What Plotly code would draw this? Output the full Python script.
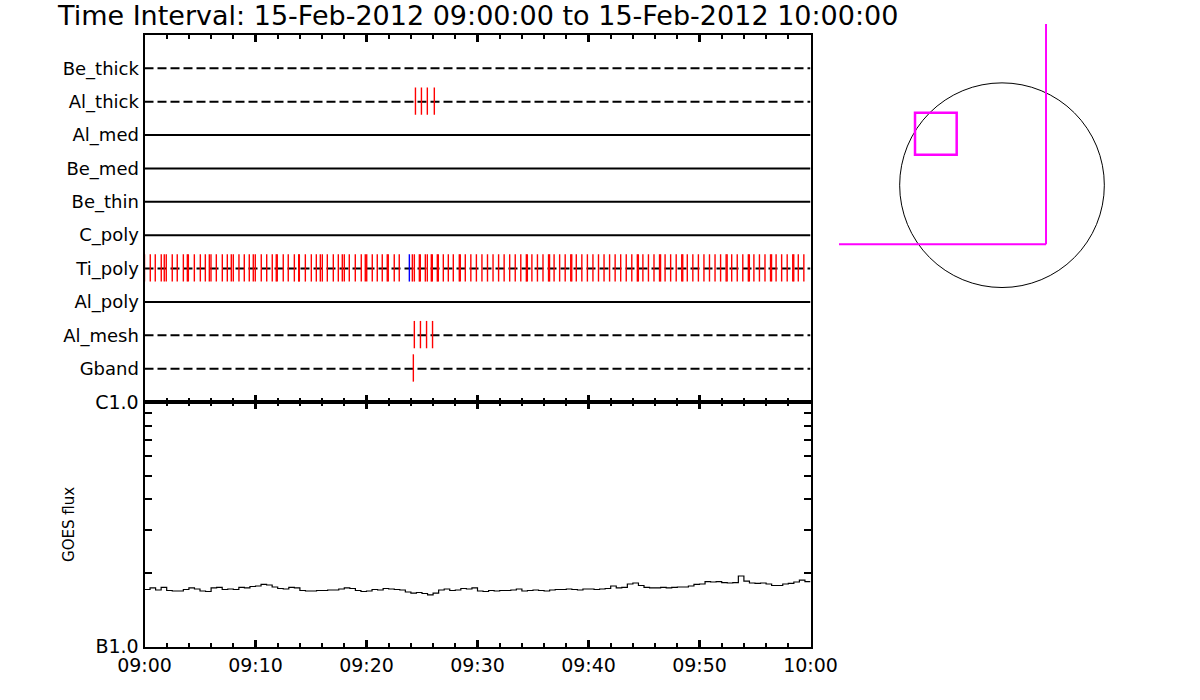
import numpy as np
import pandas as pd
import plotly.graph_objects as go

# ---------------- data ----------------
title_text = "Time Interval: 15-Feb-2012 09:00:00 to 15-Feb-2012 10:00:00"
start_time = pd.Timestamp("2012-02-15 09:00:00")
end_time = pd.Timestamp("2012-02-15 10:00:00")

rows = ["Be_thick", "Al_thick", "Al_med", "Be_med", "Be_thin",
        "C_poly", "Ti_poly", "Al_poly", "Al_mesh", "Gband"]
row_dashed = [True, True, False, False, False, False, True, False, True, True]

# event times, minutes after 09:00
al_thick_events = [24.41, 24.95, 25.48, 26.11]
al_mesh_events = [24.31, 24.86, 25.41, 25.95]
gband_events = [24.22]
ti_poly_events = [
    0.0, 0.52, 0.97, 1.51, 1.78, 1.96, 2.50, 2.95, 3.50, 3.86, 3.95, 4.49,
    5.03, 5.48, 5.84, 5.99, 6.47, 7.01, 7.46, 7.82, 8.00, 8.51, 8.99, 9.44,
    9.80, 9.98, 10.52, 11.01, 11.51, 11.87, 11.96, 12.50, 12.95, 13.50, 13.89,
    13.95, 14.49, 15.03, 15.48, 15.84, 16.02, 16.47, 17.01, 17.46, 17.82, 18.00,
    18.45, 18.99, 19.53, 19.89, 20.02, 20.52, 20.97, 21.42, 21.87, 21.96, 22.50,
    22.95, 24.13, 24.31, 24.76, 24.85, 25.30, 25.48, 25.84, 25.93, 26.38,
    26.47, 26.92, 27.37, 27.82, 28.36, 28.45, 28.90, 29.40, 29.90, 30.40,
    30.90, 31.40, 31.90, 32.40, 32.90, 33.40, 33.90, 34.40, 34.49, 34.90, 35.40,
    35.90, 36.40, 36.49, 36.90, 37.40, 37.90, 38.40, 38.49, 38.90, 39.40, 39.90,
    40.40, 40.90, 41.40, 41.90, 42.40, 42.90, 43.40, 43.90, 44.40, 44.49, 44.90,
    45.40, 45.90, 46.40, 46.49, 46.90, 47.40, 47.90, 48.40, 48.49, 48.90, 49.40,
    49.90, 50.40, 50.90, 51.40, 51.90, 52.40, 52.49, 52.90, 53.40, 53.90, 54.40,
    54.49, 54.90, 55.40, 55.90, 56.40, 56.49, 56.90, 57.40, 57.90, 58.40, 58.49,
    58.90, 59.40]
ti_poly_blue_events = [23.86]

# GOES flux (units of 1e-7 W/m^2), sampled every 30 s from 09:00
goes_step_min = 0.5
goes_flux = [
    1.713, 1.738, 1.705, 1.746, 1.697, 1.689, 1.689, 1.713, 1.738, 1.721,
    1.689, 1.681, 1.738, 1.746, 1.713, 1.721, 1.713, 1.746, 1.738, 1.762,
    1.770, 1.796, 1.787, 1.754, 1.729, 1.721, 1.746, 1.738, 1.697, 1.689,
    1.689, 1.697, 1.697, 1.705, 1.705, 1.721, 1.738, 1.729, 1.697, 1.681,
    1.689, 1.713, 1.705, 1.729, 1.721, 1.713, 1.705, 1.673, 1.657, 1.665,
    1.650, 1.627, 1.657, 1.705, 1.721, 1.697, 1.705, 1.729, 1.721, 1.738,
    1.689, 1.681, 1.697, 1.689, 1.697, 1.697, 1.705, 1.721, 1.689, 1.697,
    1.705, 1.697, 1.689, 1.705, 1.713, 1.713, 1.721, 1.713, 1.705, 1.721,
    1.721, 1.713, 1.721, 1.729, 1.770, 1.738, 1.746, 1.804, 1.821, 1.779,
    1.746, 1.738, 1.738, 1.746, 1.738, 1.746, 1.754, 1.754, 1.770, 1.796,
    1.804, 1.846, 1.838, 1.846, 1.829, 1.821, 1.829, 1.945, 1.855, 1.821,
    1.813, 1.821, 1.804, 1.779, 1.779, 1.804, 1.813, 1.838, 1.870, 1.846,
    1.846]
goes_tickvals = [1e-7, 2e-7, 3e-7, 4e-7, 5e-7, 6e-7, 7e-7, 8e-7, 9e-7, 1e-6]
goes_ticktext = ["B1.0", "", "", "", "", "", "", "", "", "C1.0"]

# solar disk locator (arcsec)
sun_radius = 960
fov_box = [-816, 286, -425, 680]          # x0, y0, x1, y1
locator_x = 413
locator_y = -554
locator_x_end = -1529
locator_y_end = 1512

# ---------------- helpers ----------------
def to_time(mins):
    return start_time + pd.to_timedelta(np.asarray(mins, dtype=float), unit="m")

TICK_UP = 0.43
TICK_DOWN = 0.39

def event_segments(times, row_idx):
    xs, ys = [], []
    for t in to_time(times):
        xs += [t, t, None]
        ys += [row_idx - TICK_UP, row_idx + TICK_DOWN, None]
    return xs, ys

fig = go.Figure()

# row baselines
for i, (name, dashed) in enumerate(zip(rows, row_dashed), start=1):
    fig.add_trace(go.Scatter(
        x=[start_time, end_time], y=[i, i], mode="lines",
        line=dict(color="black", width=2, dash="9px,4px" if dashed else "solid"),
        hoverinfo="skip", showlegend=False, xaxis="x", yaxis="y"))

# event ticks
for times, row, color in [
        (al_thick_events, "Al_thick", "red"),
        (ti_poly_events, "Ti_poly", "red"),
        (ti_poly_blue_events, "Ti_poly", "blue"),
        (al_mesh_events, "Al_mesh", "red"),
        (gband_events, "Gband", "red")]:
    xs, ys = event_segments(times, rows.index(row) + 1)
    fig.add_trace(go.Scatter(
        x=xs, y=ys, mode="lines", line=dict(color=color, width=1.4),
        hoverinfo="skip", showlegend=False, xaxis="x", yaxis="y"))

# GOES curve
goes_t = to_time(np.arange(len(goes_flux)) * goes_step_min)
fig.add_trace(go.Scatter(
    x=goes_t, y=np.array(goes_flux) * 1e-7, mode="lines",
    line=dict(color="black", width=1.2, shape="hv"),
    showlegend=False, xaxis="x2", yaxis="y2"))

# locator: solar disk, FOV box, cross lines
fig.add_shape(type="circle", xref="x3", yref="y3",
              x0=-sun_radius, y0=-sun_radius, x1=sun_radius, y1=sun_radius,
              line=dict(color="black", width=1))
fig.add_shape(type="rect", xref="x3", yref="y3",
              x0=fov_box[0], y0=fov_box[1], x1=fov_box[2], y1=fov_box[3],
              line=dict(color="#FF00FF", width=2.5))
fig.add_shape(type="line", xref="x3", yref="y3",
              x0=locator_x, y0=locator_y, x1=locator_x, y1=locator_y_end,
              line=dict(color="#FF00FF", width=2))
fig.add_shape(type="line", xref="x3", yref="y3",
              x0=locator_x_end, y0=locator_y, x1=locator_x, y1=locator_y,
              line=dict(color="#FF00FF", width=2))

FONT = "DejaVu Sans"
OFF = 0  # page body margin removed via post_script
xdom = [(144.5 - OFF) / 1200, (810.5 - OFF) / 1200]
top_dom = [1 - (402 - OFF) / 700, 1 - (35 - OFF) / 700]
bot_dom = [1 - (646.7 - OFF) / 700, 1 - (402 - OFF) / 700]

common_x = dict(
    type="date", range=[start_time, end_time], domain=xdom, automargin=False,
    showline=True, linecolor="black", linewidth=2, mirror="ticks",
    ticks="inside", ticklen=7, tickwidth=3, tickcolor="black",
    dtick=600000, tick0=start_time, showgrid=False, zeroline=False,
    minor=dict(dtick=120000, ticks="inside", ticklen=4, tickwidth=2,
               tickcolor="black", showgrid=False),
)

fig.update_layout(
    width=1200, height=700,
    margin=dict(l=0, r=0, t=0, b=0, autoexpand=False),
    paper_bgcolor="white", plot_bgcolor="white",
    font=dict(family=FONT, color="black"),
    xaxis=dict(**common_x, anchor="y", showticklabels=False),
    yaxis=dict(domain=top_dom, range=[11, 0], anchor="x", automargin=False,
               tickvals=list(range(1, len(rows) + 1)), ticktext=rows,
               ticks="", showline=True, linecolor="black", linewidth=2,
               mirror=True, showgrid=False, zeroline=False,
               tickfont=dict(size=18)),
    xaxis2=dict(**common_x, anchor="y2", matches="x", showticklabels=True,
                tickformat="%H:%M", tickfont=dict(size=19)),
    yaxis2=dict(domain=bot_dom, type="log", range=[-7, -6], anchor="x2",
                automargin=False,
                tickvals=goes_tickvals, ticktext=goes_ticktext,
                ticks="inside", ticklen=7, tickwidth=1.5, tickcolor="black",
                showline=True, linecolor="black", linewidth=2, mirror="ticks",
                showgrid=False, zeroline=False, tickfont=dict(size=19),
                title=dict(text="GOES flux", font=dict(size=15), standoff=17)),
    xaxis3=dict(domain=[(830 - OFF) / 1200, (1180 - OFF) / 1200],
                range=[-1613.5, 1669.8],
                visible=False, anchor="y3", fixedrange=True, automargin=False),
    yaxis3=dict(domain=[1 - (300 - OFF) / 700, 1 - (10 - OFF) / 700],
                range=[-1077, 1643.5],
                visible=False, anchor="x3", fixedrange=True, automargin=False),
    annotations=[dict(text=title_text, xref="paper", yref="paper",
                      x=(55 - OFF) / 1200, y=1 - (15 - OFF) / 700,
                      xanchor="left", yanchor="middle",
                      showarrow=False, font=dict(size=27))],
)

fig.write_html("out.html",
               config={"displayModeBar": False},
               post_script="document.body.style.margin='0px';"
                           "document.body.style.overflow='hidden';")
